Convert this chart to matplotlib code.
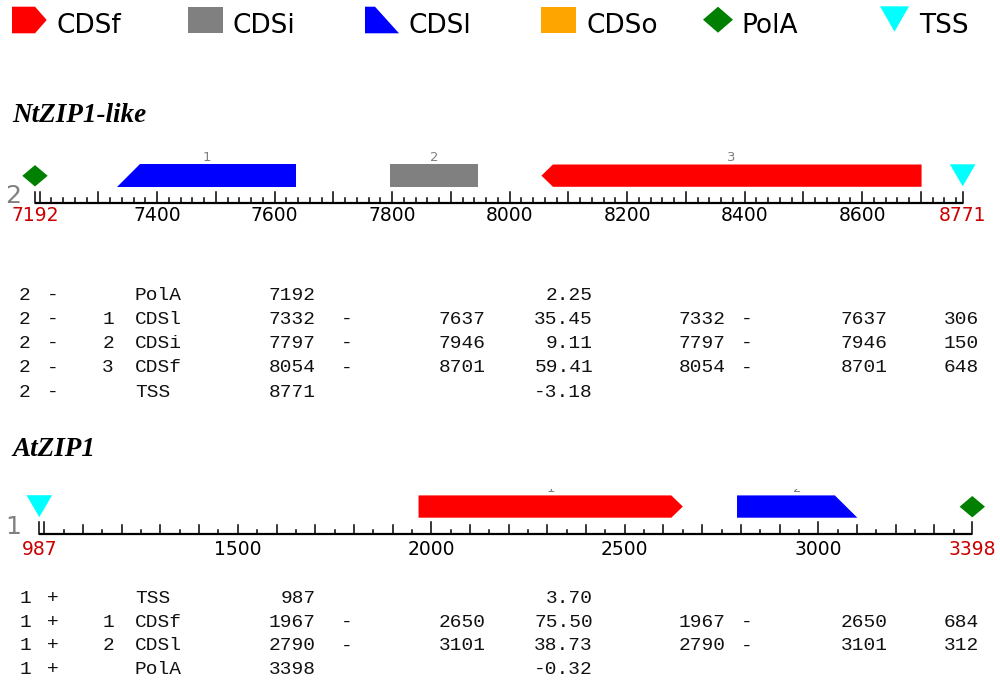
import numpy as np
import matplotlib
matplotlib.use("Agg")
import matplotlib.pyplot as plt
from matplotlib.patches import Polygon

# ---------------- data ----------------
legend_names = ["CDSf", "CDSi", "CDSl", "CDSo", "PolA", "TSS"]
feature_colors = {"CDSf": "#ff0000", "CDSi": "#808080", "CDSl": "#0000ff",
                  "CDSo": "#ffa500", "PolA": "#008000", "TSS": "#00ffff"}

g1_name = "NtZIP1-like"
g1_id = 2
g1_strand = "-"
g1_range = [7192, 8771]
g1_types = ["PolA", "CDSl", "CDSi", "CDSf", "TSS"]
g1_index = [None, 1, 2, 3, None]
g1_from = [7192, 7332, 7797, 8054, 8771]
g1_to = [None, 7637, 7946, 8701, None]
g1_score = [2.25, 35.45, 9.11, 59.41, -3.18]
g1_length = [None, 306, 150, 648, None]
g1_ticklabels = [7400, 7600, 7800, 8000, 8200, 8400, 8600]

g2_name = "AtZIP1"
g2_id = 1
g2_strand = "+"
g2_range = [987, 3398]
g2_types = ["TSS", "CDSf", "CDSl", "PolA"]
g2_index = [None, 1, 2, None]
g2_from = [987, 1967, 2790, 3398]
g2_to = [None, 2650, 3101, None]
g2_score = [3.70, 75.50, 38.73, -0.32]
g2_length = [None, 684, 312, None]
g2_ticklabels = [1500, 2000, 2500, 3000]

# ---------------- figure ----------------
W, H = 1000, 688
fig = plt.figure(figsize=(10, 6.88), dpi=100)
bg = fig.add_axes([0, 0, 1, 1])
bg.set_xlim(0, W)
bg.set_ylim(H, 0)
bg.axis("off")

# legend
leg_x = [12, 188, 365, 541, 703, 880]
leg_text_x = [57, 233, 409, 586, 741, 919]
for name, x, tx in zip(legend_names, leg_x, leg_text_x):
    c = feature_colors[name]
    if name == "CDSf":
        pts = [(x, 6.7), (x + 23, 6.7), (x + 34.7, 20), (x + 23, 33.3), (x, 33.3)]
    elif name in ("CDSi", "CDSo"):
        pts = [(x, 6.7), (x + 34.5, 6.7), (x + 34.5, 33.3), (x, 33.3)]
    elif name == "CDSl":
        pts = [(x, 6.7), (x + 10, 6.7), (x + 34, 33.3), (x, 33.3)]
    elif name == "PolA":
        pts = [(x, 19.7), (x + 15, 6.7), (x + 30, 19.7), (x + 15, 32.7)]
    else:
        pts = [(x, 6.3), (x + 29, 6.3), (x + 14.5, 31.7)]
    bg.add_patch(Polygon(pts, closed=True, facecolor=c, edgecolor="none"))
    bg.text(tx, 33.3, name, fontsize=19, family="DejaVu Sans", va="baseline",
            ha="left", color="black")


def draw_track(name, gid, strand, grange, types, index, frm, to, ticklabels,
               x0, x1, yaxis, title_base, clip_top, label_base,
               minor_step, mid_step, big_step, heights):
    # title
    bg.text(12, title_base, name, fontsize=19.5, family="Liberation Serif",
            weight="bold", style="italic", va="baseline", ha="left", color="black")
    # left id number
    bg.text(21, yaxis, str(gid), fontsize=18, family="DejaVu Sans", color="#808080",
            ha="right", va="baseline")
    ax = fig.add_axes([x0 / W, 1 - yaxis / H, (x1 - x0) / W, clip_top / H])
    ax.set_xlim(grange[0], grange[1])
    ax.set_ylim(0, clip_top)
    ax.axis("off")
    bp_px = (grange[1] - grange[0]) / (x1 - x0)

    # axis line
    ax.plot(grange, [0, 0], color="black", lw=1.6, clip_on=False, solid_capstyle="butt")
    # ticks
    first = int(np.ceil(grange[0] / minor_step) * minor_step)
    pos = np.arange(first, grange[1] + 1, minor_step)
    for p in pos:
        if p % big_step == 0:
            h = heights[2]
        elif p % mid_step == 0:
            h = heights[1]
        else:
            h = heights[0]
        ax.plot([p, p], [0, h], color="black", lw=1.1, clip_on=False)
    for p in grange:
        ax.plot([p, p], [0, heights[2]], color="black", lw=1.1, clip_on=False)
    # tick labels
    for p in ticklabels:
        ax.text(p, label_base, str(p), fontsize=13.5, family="DejaVu Sans",
                ha="center", va="baseline", color="black", clip_on=False)
    for p in grange:
        ax.text(p, label_base, str(p), fontsize=13.5, family="DejaVu Sans",
                ha="center", va="baseline", color="#cc0000", clip_on=False)

    bot, top = 16.5, 38.8
    mid = (bot + top) / 2
    slant = 22.5 * bp_px
    tip = 11.5 * bp_px
    for t, i, s, e in zip(types, index, frm, to):
        c = feature_colors[t]
        if t == "PolA":
            hw = 12.7 * bp_px
            pts = [(s - hw, 27.5), (s, 38.2), (s + hw, 27.5), (s, 16.8)]
        elif t == "TSS":
            hw = 12.8 * bp_px
            pts = [(s - hw, 39), (s + hw, 39), (s, 17)]
        elif t == "CDSf":
            if strand == "+":
                pts = [(s, bot), (e - tip, bot), (e, mid), (e - tip, top), (s, top)]
            else:
                pts = [(e, bot), (s + tip, bot), (s, mid), (s + tip, top), (e, top)]
        elif t == "CDSl":
            if strand == "+":
                pts = [(s, bot), (e, bot), (e - slant, top), (s, top)]
            else:
                pts = [(s, bot), (e, bot), (e, top), (s + slant, top)]
        else:
            pts = [(s, bot), (e, bot), (e, top), (s, top)]
        ax.add_patch(Polygon(pts, closed=True, facecolor=c, edgecolor="none",
                             clip_on=False))
        if i is not None:
            ax.text((s + e) / 2, 42.3, str(i), fontsize=9.5, family="DejaVu Sans",
                    color="#808080", ha="center", va="baseline", clip_on=True)
    return ax


def draw_table(gid, strand, types, index, frm, to, score, length, base0, step):
    kw = dict(fontsize=14, family="Liberation Mono", color="#111111", va="baseline")
    for r, (t, i, s, e, sc, ln) in enumerate(zip(types, index, frm, to, score, length)):
        y = base0 + r * step
        bg.text(25, y, str(gid), ha="center", **kw)
        bg.text(53, y, strand, ha="center", **kw)
        if i is not None:
            bg.text(114, y, str(i), ha="right", **kw)
        bg.text(135, y, t, ha="left", **kw)
        bg.text(316, y, str(s), ha="right", **kw)
        bg.text(593, y, "%.2f" % sc, ha="right", **kw)
        if e is not None:
            bg.text(347, y, "-", ha="center", **kw)
            bg.text(486, y, str(e), ha="right", **kw)
            bg.text(726, y, str(s), ha="right", **kw)
            bg.text(747, y, "-", ha="center", **kw)
            bg.text(888, y, str(e), ha="right", **kw)
            bg.text(979, y, str(ln), ha="right", **kw)


draw_track(g1_name, g1_id, g1_strand, g1_range, g1_types, g1_index, g1_from, g1_to,
           g1_ticklabels, 35.0, 962.7, 203.3, 121.7, 60, -17.5,
           20, 100, 100, (5.2, 11.8, 11.8))
draw_table(g1_id, g1_strand, g1_types, g1_index, g1_from, g1_to, g1_score, g1_length,
           300.0, 24.15)

draw_track(g2_name, g2_id, g2_strand, g2_range, g2_types, g2_index, g2_from, g2_to,
           g2_ticklabels, 39.3, 972.3, 534.2, 456.0, 45.5, -20.8,
           50, 100, 1000, (4.7, 9.7, 12.5))
draw_table(g2_id, g2_strand, g2_types, g2_index, g2_from, g2_to, g2_score, g2_length,
           603.0, 23.7)

fig.savefig("out.png", dpi=100)
